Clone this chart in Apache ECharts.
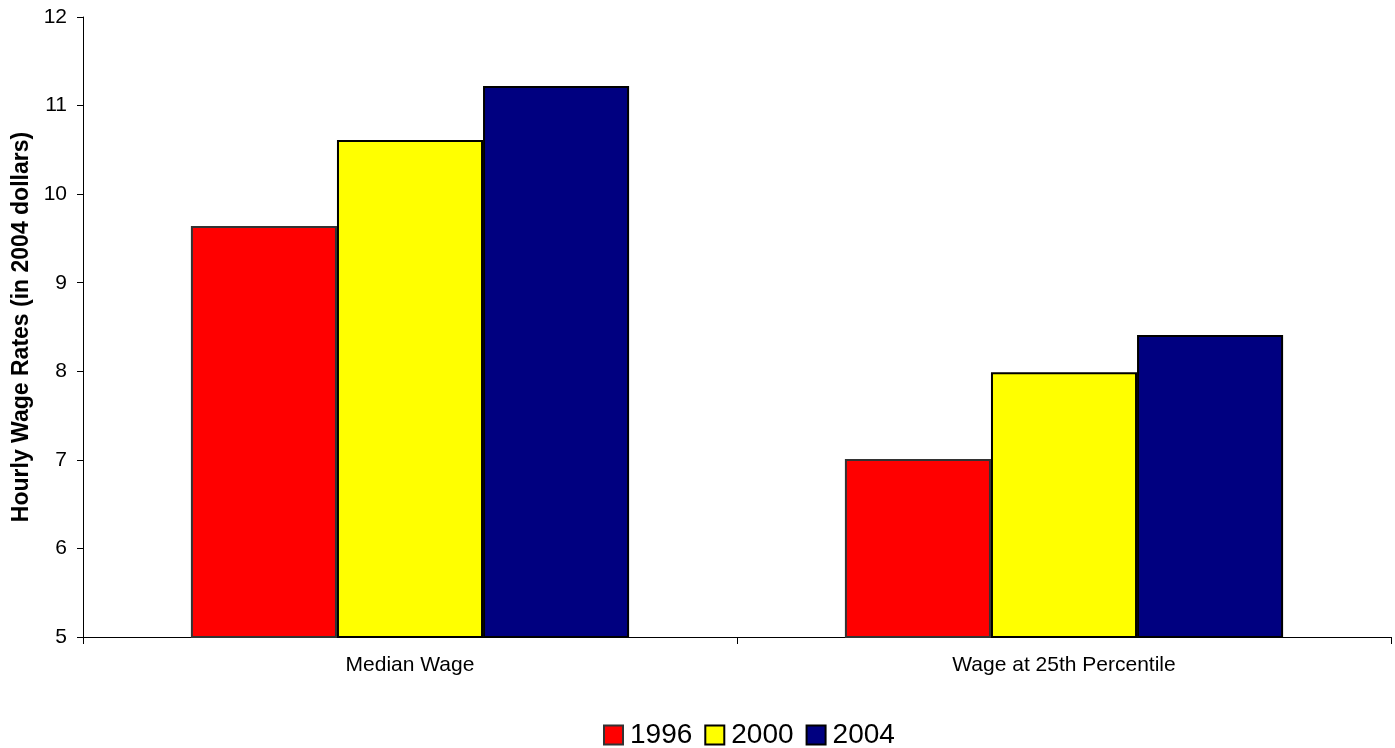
<!DOCTYPE html>
<html>
<head>
<meta charset="utf-8">
<script src="https://cdn.jsdelivr.net/npm/echarts@6/dist/echarts.min.js"></script>
<style>
  html, body { margin: 0; padding: 0; background: #fff; }
  #chart { width: 1395px; height: 748px; }
</style>
</head>
<body>
<div id="chart"></div>
<script>
// categories and yearly wage values (2004 dollars)
const categories = ["Median Wage", "Wage at 25th Percentile"];
const years = ["1996", "2000", "2004"];
const wages1996 = [9.64, 7.01];
const wages2000 = [10.61, 7.99];
const wages2004 = [11.22, 8.41];
const yTicks = [5, 6, 7, 8, 9, 10, 11, 12];

const colors = ["#FF0000", "#FFFF00", "#000080"];
const borders = ["#333333", "#000000", "#000000"];
const font = "'Liberation Sans', Arial, sans-serif";

function makeBar(name, data, i) {
  return {
    name: name,
    type: "bar",
    data: data,
    barGap: "0%",
    barCategoryGap: "33%",
    itemStyle: {
      color: colors[i],
      borderColor: borders[i],
      borderWidth: 2
    }
  };
}

let chart = echarts.init(document.getElementById("chart"));
let option = {
  animation: false,
  textStyle: { fontFamily: font, color: "#000" },
  grid: { left: 83, right: 4, top: 17, bottom: 111, outerBoundsMode: "none", containLabel: false },
  legend: {
    left: 598,
    top: 716,
    itemWidth: 19,
    itemHeight: 19,
    itemGap: 12,
    icon: "rect",
    textStyle: { fontSize: 28, color: "#000", fontFamily: font, padding: [0, 0, 0, 2] },
    data: years
  },
  xAxis: {
    type: "category",
    data: categories,
    axisLine: { lineStyle: { color: "#000", width: 1 } },
    axisTick: { show: true, length: 7, lineStyle: { color: "#000" } },
    axisLabel: { fontSize: 21, color: "#000", margin: 18, fontFamily: font },
    splitLine: { show: false }
  },
  yAxis: {
    type: "value",
    min: yTicks[0],
    max: yTicks[yTicks.length - 1],
    interval: 1,
    name: "Hourly Wage Rates (in 2004 dollars)",
    nameLocation: "middle",
    nameGap: 48,
    nameTextStyle: { fontSize: 23, fontWeight: "bold", color: "#000", fontFamily: font },
    axisLine: { show: true, lineStyle: { color: "#000", width: 1 } },
    axisTick: { show: true, length: 6, lineStyle: { color: "#000" } },
    axisLabel: { fontSize: 21, color: "#000", margin: 16, fontFamily: font },
    splitLine: { show: false }
  },
  series: [
    makeBar(years[0], wages1996, 0),
    makeBar(years[1], wages2000, 1),
    makeBar(years[2], wages2004, 2)
  ]
};
chart.setOption(option);
</script>
</body>
</html>
